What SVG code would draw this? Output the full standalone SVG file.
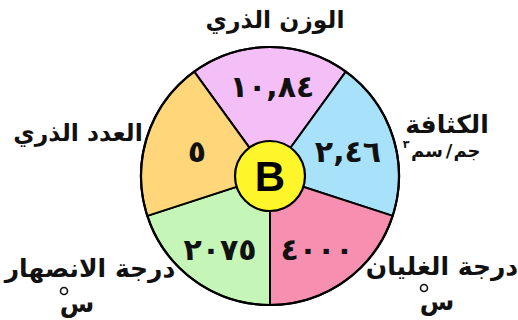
<svg xmlns="http://www.w3.org/2000/svg" width="518" height="320" viewBox="0 0 518 320">
<style>
.sec{stroke:#000;stroke-width:2;stroke-linejoin:round}
.num{font-family:"DejaVu Sans",sans-serif;font-weight:bold;font-size:30px;fill:#111;text-anchor:middle}
.lbl{font-family:"DejaVu Sans",sans-serif;font-weight:bold;font-size:25px;fill:#111;text-anchor:middle}
.lbl2{font-family:"DejaVu Sans",sans-serif;font-weight:bold;font-size:23.5px;fill:#111;text-anchor:middle}
.sub{font-family:"DejaVu Sans",sans-serif;font-weight:bold;font-size:18px;fill:#111;text-anchor:middle}
.sup{font-family:"DejaVu Sans",sans-serif;font-weight:bold;font-size:11px;fill:#111;text-anchor:middle}
.deg{fill:none;stroke:#111;stroke-width:1.6}
</style>
<rect width="518" height="320" fill="#fff"/>
<g id="sector-mass">
<path class="sec" fill="#F4BFF6" d="M270,176 L194.2,71.6 A129,129 0 0 1 345.8,71.6 Z"/>
<text class="num" x="272" y="97">١٠,٨٤</text>
</g>
<g id="sector-density">
<path class="sec" fill="#A8E2FA" d="M270,176 L345.8,71.6 A129,129 0 0 1 392.7,215.9 Z"/>
<text class="num" x="348" y="162">٢,٤٦</text>
</g>
<g id="sector-boiling">
<path class="sec" fill="#F78FB0" d="M270,176 L392.7,215.9 A129,129 0 0 1 270,305 Z"/>
<text class="num" x="317" y="260">٤٠٠٠</text>
</g>
<g id="sector-melting">
<path class="sec" fill="#C6F5B8" d="M270,176 L270,305 A129,129 0 0 1 147.3,215.9 Z"/>
<text class="num" x="220" y="260">٢٠٧٥</text>
</g>
<g id="sector-number">
<path class="sec" fill="#FFD77A" d="M270,176 L147.3,215.9 A129,129 0 0 1 194.2,71.6 Z"/>
<text class="num" x="197" y="162">٥</text>
</g>
<circle cx="270" cy="176" r="129" fill="none" stroke="#000" stroke-width="2.2"/>
<g id="center">
<circle cx="270" cy="176" r="35" fill="#FFF52B" stroke="#000" stroke-width="2.2"/>
<text x="270" y="191" font-family="Liberation Sans, Arial, sans-serif" font-weight="bold" font-size="42" text-anchor="middle" fill="#000">B</text>
</g>
<g id="label-mass"><text class="lbl2" x="275" y="28">الوزن الذري</text></g>
<g id="label-number"><text class="lbl2" x="78" y="141">العدد الذري</text></g>
<g id="label-density">
<text class="lbl" x="447" y="133">الكثافة</text>
<text class="sub" x="467" y="157">جم</text>
<text class="sub" x="449" y="157">/</text>
<text class="sub" x="427" y="157">سم</text>
<text class="sup" x="406" y="148">٣</text>
</g>
<g id="label-melting">
<text class="lbl" x="90" y="277">درجة الانصهار</text>
<circle class="deg" cx="64" cy="291" r="3.5"/>
<text class="lbl" x="77" y="312">س</text>
</g>
<g id="label-boiling">
<text class="lbl" x="442" y="275">درجة الغليان</text>
<circle class="deg" cx="424" cy="288" r="3.5"/>
<text class="lbl" x="437" y="310">س</text>
</g>
</svg>
